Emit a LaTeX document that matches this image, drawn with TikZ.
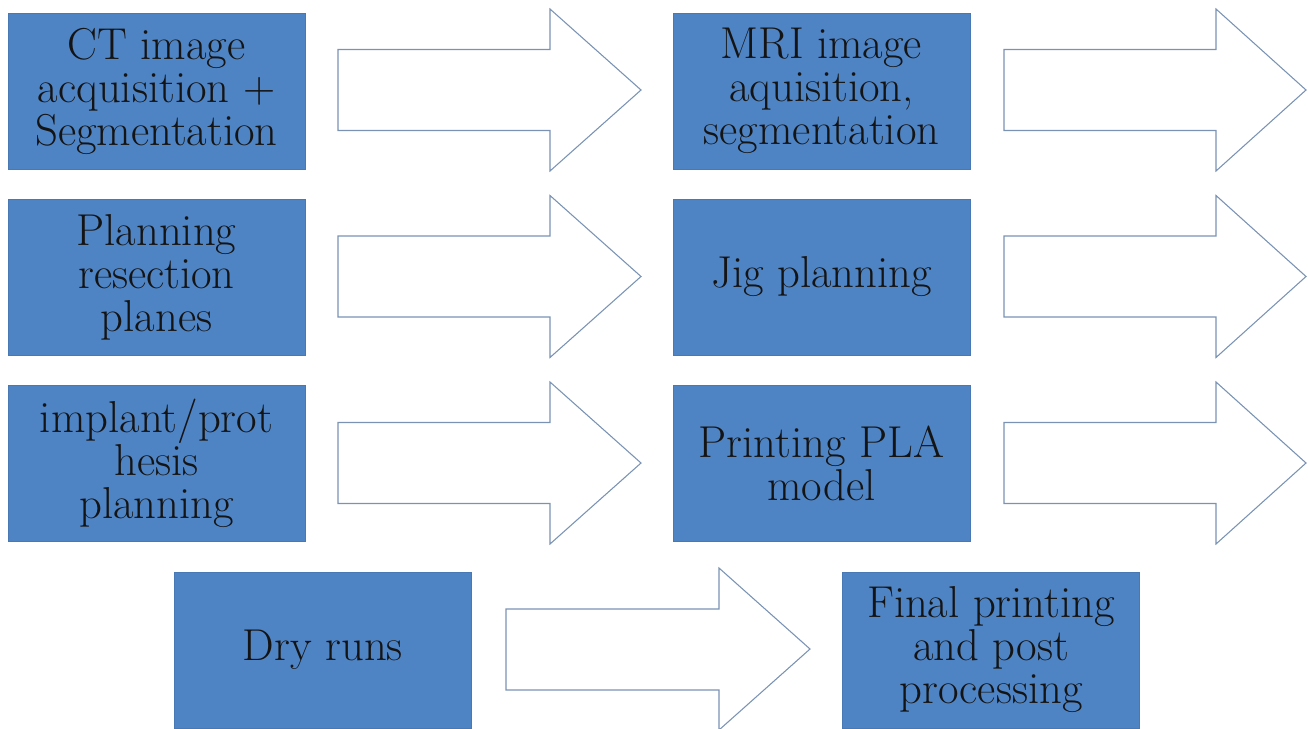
\documentclass[tikz,border=0pt]{standalone}
\usepackage{tikz}
\usetikzlibrary{positioning}
\definecolor{boxblue}{HTML}{4F84C4}
\definecolor{arrowline}{HTML}{7A93B5}

\begin{document}
\begin{tikzpicture}[x=.75pt,y=-.75pt,font=\fontsize{33.5}{32.25}\selectfont,
  stepbox/.style={fill=boxblue,draw=boxblue!92!black,line width=.4pt,minimum width=222.75pt,minimum height=117pt,align=center,inner sep=0pt,text=black!92},
  blockarrow/.style={draw=arrowline,fill=white,line width=.8pt,line join=miter}]
\useasboundingbox (0,0) rectangle (1308,728);
% step boxes
\node[stepbox] (ct) at (156.5,91) {CT image\\acquisition +\\Segmentation};
\node[stepbox] (mri) at (821.5,91) {MRI image\\aquisition,\\segmentation};
\node[stepbox] (resect) at (156.5,277) {Planning\\resection\\planes};
\node[stepbox] (jig) at (821.5,277) {Jig planning};
\node[stepbox] (implant) at (156.5,463) {implant/prot\\hesis\\planning};
\node[stepbox] (pla) at (821.5,463) {Printing PLA\\model};
\node[stepbox] (dry) at (323,650) {Dry runs};
\node[stepbox] (final) at (991,650) {Final printing\\and post\\processing};
% block arrows
\foreach \c in {90,276.5,463}{
\draw[blockarrow] (338,\c-40.5) -- (550,\c-40.5) -- (550,\c-81) -- (641,\c) -- (550,\c+81) -- (550,\c+40.5) -- (338,\c+40.5) -- cycle;
\draw[blockarrow] (1004,\c-40.5) -- (1216,\c-40.5) -- (1216,\c-81) -- (1306,\c) -- (1216,\c+81) -- (1216,\c+40.5) -- (1004,\c+40.5) -- cycle;}
\draw[blockarrow] (506,609) -- (719,609) -- (719,568) -- (810,649) -- (719,730) -- (719,690) -- (506,690) -- cycle;
\end{tikzpicture}
\end{document}
